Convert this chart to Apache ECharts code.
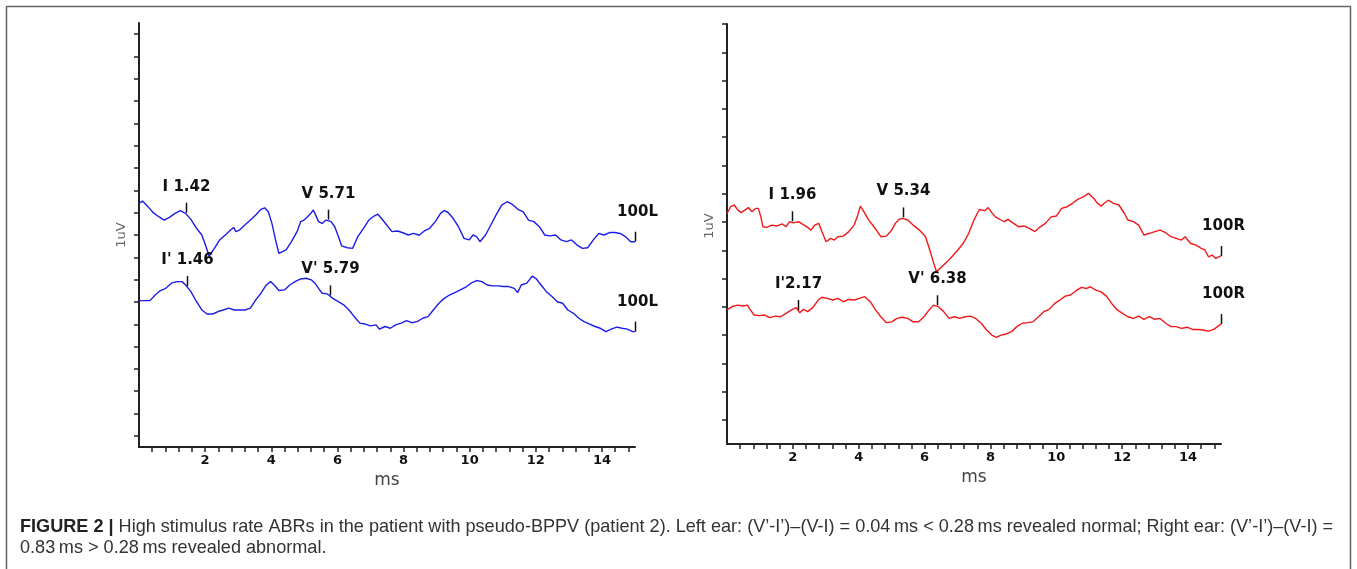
<!DOCTYPE html>
<html><head><meta charset="utf-8">
<script src="https://cdn.jsdelivr.net/npm/echarts@6/dist/echarts.min.js"></script>
<style>html,body{margin:0;padding:0;background:#fff}#c{width:1357px;height:569px}</style>
</head><body><div id="c"></div>
<script>
// ---------------- data (time in ms, amplitude in axis divisions) ----------------
const xTickLabels = [2, 4, 6, 8, 10, 12, 14];

const leftUpper = [[0,10.42],[0.11,10.52],[0.27,10.27],[0.43,10.0],[0.6,9.82],[0.76,9.67],[0.92,9.79],[1.09,9.97],[1.25,10.09],[1.41,9.97],[1.57,9.7],[1.74,9.3],[1.9,9.0],[2.01,8.55],[2.12,8.06],[2.28,8.4],[2.44,8.78],[2.61,9.0],[2.77,9.22],[2.86,9.34],[2.93,9.15],[3.04,9.22],[3.2,9.45],[3.37,9.67],[3.53,9.9],[3.69,10.15],[3.8,10.22],[3.91,10.04],[4.02,9.52],[4.13,8.78],[4.23,8.18],[4.29,8.1],[4.45,8.33],[4.61,8.7],[4.78,9.15],[4.89,9.6],[4.99,9.67],[5.1,9.82],[5.21,10.0],[5.27,10.12],[5.32,9.97],[5.43,9.6],[5.54,9.52],[5.65,9.67],[5.81,9.6],[5.92,9.37],[6.03,8.93],[6.13,8.51],[6.3,8.43],[6.46,8.4],[6.62,8.93],[6.79,9.3],[6.95,9.67],[7.11,9.85],[7.22,9.93],[7.33,9.75],[7.49,9.45],[7.65,9.15],[7.82,9.18],[7.98,9.1],[8.14,9.0],[8.31,9.07],[8.47,8.99],[8.63,9.18],[8.79,9.3],[8.96,9.6],[9.12,9.97],[9.23,10.09],[9.34,10.02],[9.5,9.75],[9.66,9.37],[9.83,8.85],[9.99,8.78],[10.1,9.0],[10.21,8.93],[10.31,8.7],[10.48,9.0],[10.64,9.45],[10.8,9.9],[10.97,10.34],[11.13,10.49],[11.29,10.37],[11.46,10.15],[11.62,10.04],[11.78,9.67],[11.94,9.6],[12.11,9.37],[12.27,9.0],[12.43,8.96],[12.6,9.0],[12.76,8.78],[12.92,8.7],[13.08,8.78],[13.25,8.55],[13.41,8.4],[13.57,8.43],[13.74,8.78],[13.9,9.07],[14.06,9.0],[14.23,9.11],[14.39,9.11],[14.55,9.07],[14.71,8.93],[14.87,8.7],[15,8.7]];

const leftLower = [[0,6.06],[0.33,6.06],[0.49,6.31],[0.65,6.51],[0.81,6.61],[0.98,6.84],[1.14,6.91],[1.3,6.91],[1.41,6.76],[1.57,6.46],[1.74,6.01],[1.9,5.64],[2.06,5.46],[2.23,5.46],[2.39,5.57],[2.55,5.64],[2.71,5.72],[2.88,5.64],[3.04,5.64],[3.2,5.64],[3.37,5.72],[3.53,6.09],[3.69,6.39],[3.85,6.76],[3.98,6.91],[4.09,6.76],[4.23,6.51],[4.4,6.54],[4.56,6.76],[4.72,6.91],[4.89,7.03],[5.05,7.06],[5.21,6.99],[5.32,6.84],[5.43,6.61],[5.54,6.39],[5.7,6.36],[5.86,6.16],[6.03,6.01],[6.19,5.87],[6.35,5.64],[6.51,5.34],[6.68,5.05],[6.84,5.01],[7.0,4.93],[7.17,4.97],[7.27,4.78],[7.44,4.9],[7.6,4.82],[7.76,4.97],[7.93,5.05],[8.09,5.16],[8.25,5.07],[8.41,5.12],[8.58,5.27],[8.74,5.34],[8.9,5.64],[9.07,5.94],[9.23,6.16],[9.39,6.31],[9.55,6.42],[9.72,6.54],[9.88,6.66],[10.04,6.84],[10.21,6.96],[10.37,6.91],[10.53,6.76],[10.69,6.72],[10.86,6.72],[11.02,6.69],[11.18,6.69],[11.35,6.61],[11.45,6.42],[11.56,6.76],[11.73,6.84],[11.89,7.16],[12.0,7.06],[12.16,6.76],[12.32,6.46],[12.49,6.24],[12.65,6.01],[12.81,5.94],[12.97,5.64],[13.14,5.49],[13.3,5.27],[13.46,5.12],[13.63,5.01],[13.79,4.9],[13.95,4.82],[14.12,4.67],[14.28,4.78],[14.45,4.87],[14.61,4.82],[14.77,4.78],[14.93,4.67],[15,4.67]];

const rightUpper = [[0,7.3],[0.11,7.54],[0.22,7.6],[0.33,7.42],[0.43,7.33],[0.54,7.42],[0.65,7.51],[0.76,7.36],[0.87,7.48],[0.95,7.48],[1.03,7.18],[1.09,6.83],[1.2,6.81],[1.36,6.89],[1.52,6.86],[1.68,6.93],[1.79,6.83],[1.9,7.01],[2.01,6.97],[2.17,7.01],[2.34,6.89],[2.45,6.81],[2.55,6.71],[2.66,6.89],[2.79,6.95],[2.88,6.66],[3.01,6.3],[3.15,6.42],[3.26,6.36],[3.37,6.48],[3.53,6.5],[3.7,6.66],[3.86,6.89],[3.97,7.24],[4.05,7.56],[4.16,7.36],[4.29,7.09],[4.46,6.83],[4.57,6.66],[4.67,6.48],[4.84,6.5],[5.0,6.71],[5.11,6.95],[5.22,7.09],[5.33,7.13],[5.49,7.07],[5.65,6.89],[5.82,6.74],[6.03,6.48],[6.14,6.07],[6.25,5.65],[6.36,5.24],[6.52,5.42],[6.68,5.59],[6.85,5.8],[7.01,6.01],[7.17,6.24],[7.34,6.6],[7.5,7.07],[7.66,7.44],[7.83,7.4],[7.93,7.51],[8.04,7.33],[8.15,7.18],[8.32,7.07],[8.42,7.01],[8.53,7.09],[8.7,6.95],[8.86,6.83],[9.02,6.86],[9.18,6.77],[9.35,6.66],[9.51,6.83],[9.67,6.95],[9.84,7.18],[10.0,7.21],[10.16,7.48],[10.33,7.54],[10.49,7.66],[10.65,7.8],[10.82,7.89],[10.98,8.01],[11.14,7.83],[11.25,7.66],[11.36,7.56],[11.47,7.68],[11.58,7.77],[11.74,7.66],[11.9,7.6],[12.07,7.3],[12.17,7.07],[12.34,7.01],[12.5,6.89],[12.66,6.54],[12.83,6.6],[12.99,6.66],[13.15,6.71],[13.32,6.62],[13.48,6.48],[13.64,6.42],[13.8,6.36],[13.91,6.48],[14.08,6.24],[14.24,6.18],[14.4,6.07],[14.51,6.01],[14.62,5.77],[14.73,5.83],[14.84,5.71],[14.89,5.77],[15,5.8]];

const rightLower = [[0,3.89],[0.16,4.01],[0.33,4.06],[0.49,4.03],[0.62,4.06],[0.71,3.89],[0.82,3.71],[0.98,3.69],[1.14,3.71],[1.3,3.62],[1.47,3.67],[1.63,3.65],[1.79,3.77],[1.96,3.89],[2.1,3.97],[2.21,3.79],[2.32,3.91],[2.45,3.83],[2.61,3.98],[2.77,4.24],[2.88,4.34],[3.04,4.3],[3.21,4.24],[3.37,4.3],[3.53,4.18],[3.7,4.26],[3.86,4.24],[4.02,4.3],[4.18,4.36],[4.35,4.18],[4.51,3.89],[4.67,3.65],[4.84,3.44],[5.0,3.47],[5.16,3.59],[5.33,3.63],[5.49,3.59],[5.65,3.47],[5.82,3.47],[5.98,3.65],[6.14,3.89],[6.27,4.06],[6.41,4.01],[6.58,3.83],[6.74,3.59],[6.9,3.65],[7.07,3.59],[7.23,3.65],[7.39,3.67],[7.55,3.59],[7.72,3.42],[7.88,3.18],[8.04,3.0],[8.18,2.92],[8.32,3.0],[8.48,3.04],[8.64,3.12],[8.8,3.3],[8.97,3.42],[9.13,3.44],[9.29,3.47],[9.46,3.65],[9.62,3.83],[9.78,3.91],[9.95,4.12],[10.11,4.24],[10.27,4.38],[10.43,4.42],[10.6,4.57],[10.76,4.69],[10.92,4.65],[11.03,4.71],[11.2,4.59],[11.36,4.53],[11.52,4.38],[11.68,4.12],[11.85,3.89],[12.01,3.77],[12.17,3.65],[12.34,3.59],[12.5,3.67],[12.66,3.56],[12.83,3.65],[12.99,3.56],[13.15,3.59],[13.32,3.42],[13.48,3.3],[13.64,3.3],[13.8,3.24],[13.97,3.28],[14.13,3.2],[14.29,3.2],[14.46,3.18],[14.62,3.14],[14.78,3.2],[14.89,3.3],[15,3.39]];

const leftUpperPeaks  = [['I 1.42', 1.42], ['V 5.71', 5.71]];
const leftLowerPeaks  = [["I' 1.46", 1.46], ["V' 5.79", 5.79]];
const rightUpperPeaks = [['I 1.96', 1.96], ['V 5.34', 5.34]];
const rightLowerPeaks = [["I'2.17", 2.17], ["V' 6.38", 6.38]];
const leftEndLabel = '100L';
const rightEndLabel = '100R';
const yAxisName = '1uV';
const xAxisName = 'ms';

const captionBold = 'FIGURE 2 |';
const captionLine1 = ' High stimulus rate ABRs in the patient with pseudo-BPPV (patient 2). Left ear: (V\u2019-I\u2019)\u2013(V-I) = 0.04\u2009ms < 0.28\u2009ms revealed normal; Right ear: (V\u2019-I\u2019)\u2013(V-I) =';
const captionLine2 = '0.83\u2009ms > 0.28\u2009ms revealed abnormal.';

// ---------------- helpers ----------------
function interp(trace, t) {
  for (let i = 1; i < trace.length; i++) {
    if (trace[i][0] >= t) {
      const a = trace[i - 1], b = trace[i];
      const f = (t - a[0]) / (b[0] - a[0] || 1);
      return a[1] + f * (b[1] - a[1]);
    }
  }
  return trace[trace.length - 1][1];
}
const range = (a, b, s) => { const r = []; for (let v = a; v <= b + 1e-9; v += s) r.push(Math.round(v * 100) / 100); return r; };
const minorTicks = range(0.4, 14.8, 0.4);

const LABEL_FONT = 'DejaVu Sans';
function markerSeries(idx, trace, peaks, endLabel) {
  const data = peaks.map(p => [p[1], interp(trace, p[1]), 0]);
  const last = trace[trace.length - 1];
  data.push([last[0], last[1], 1]);
  const texts = peaks.map(p => p[0]).concat([endLabel]);
  return {
    type: 'custom', xAxisIndex: idx, yAxisIndex: idx, coordinateSystem: 'cartesian2d',
    clip: false, silent: true, z: 5, data: data,
    renderItem: function (params, api) {
      const pt = api.coord([api.value(0), api.value(1)]);
      const isEnd = api.value(2) === 1;
      const x = Math.round(pt[0]) + 0.5;
      const y0 = isEnd ? pt[1] : pt[1] - 1;
      const len = 10;
      const labelY = isEnd ? pt[1] - len - 20 : pt[1] - 1 - len - 16;
      return {
        type: 'group', children: [
          { type: 'line', shape: { x1: x, y1: y0, x2: x, y2: y0 - len }, style: { stroke: '#111', lineWidth: 1.5 } },
          { type: 'text', x: x + (isEnd ? 2 : 0), y: labelY,
            style: { text: texts[params.dataIndex], fill: '#111', fontSize: 15, fontWeight: 'bold',
                     fontFamily: LABEL_FONT, align: 'center', verticalAlign: 'middle' } }
        ]
      };
    }
  };
}

function xAxisDef(idx) {
  return {
    type: 'value', gridIndex: idx, min: 0, max: 15,
    name: xAxisName, nameLocation: 'middle', nameGap: 23,
    nameTextStyle: { fontSize: 17, color: '#444', fontFamily: 'DejaVu Sans' },
    axisLine: { show: true, onZero: false, lineStyle: { color: '#222', width: 2 } },
    axisTick: { show: true, customValues: minorTicks, length: 5, lineStyle: { color: '#222', width: 1.5 } },
    axisLabel: { customValues: xTickLabels, color: '#111', fontSize: 13, fontWeight: 'bold', fontFamily: 'DejaVu Sans', margin: 7 },
    splitLine: { show: false }
  };
}
function yAxisDef(idx, min, max, nTicks, pad) {
  return {
    type: 'value', gridIndex: idx, min: min, max: max,
    name: yAxisName, nameLocation: 'middle', nameGap: 11, nameRotate: 90,
    nameTextStyle: { fontSize: 13, color: '#666', fontFamily: 'DejaVu Sans', padding: pad },
    axisLine: { show: true, onZero: false, lineStyle: { color: '#222', width: 2 } },
    axisTick: { show: true, customValues: range(0, nTicks - 1, 1), length: 5, lineStyle: { color: '#222', width: 1.5 } },
    axisLabel: { show: false },
    splitLine: { show: false }
  };
}

// caption font sizing: fit the first caption line to the width it has in the figure
const capFam = '"Liberation Sans Narrow", "Liberation Sans", Arial, sans-serif';
const ctx = document.createElement('canvas').getContext('2d');
function capWidth(sz) {
  ctx.font = 'bold ' + sz + 'px ' + capFam; let w = ctx.measureText(captionBold).width;
  ctx.font = sz + 'px ' + capFam; return w + ctx.measureText(captionLine1).width;
}
let capSize = 26;
while (capSize > 9 && capWidth(capSize) > 1318) capSize -= 0.1;

const chart = echarts.init(document.getElementById('c'), null, { renderer: 'canvas' });
chart.setOption({
  backgroundColor: '#fff',
  animation: false,
  grid: [
    { left: 139, top: 23, width: 496, height: 424 },
    { left: 727, top: 24, width: 494, height: 420 }
  ],
  xAxis: [xAxisDef(0), xAxisDef(1)],
  yAxis: [yAxisDef(0, -0.5, 18.5, 19, [0, 0, 0, 0]), yAxisDef(1, -0.85, 14, 15, [0, 0, 0, 16])],
  series: [
    { type: 'line', xAxisIndex: 0, yAxisIndex: 0, data: leftUpper, showSymbol: false, silent: true, lineStyle: { color: '#1c1ce8', width: 1.4 } },
    { type: 'line', xAxisIndex: 0, yAxisIndex: 0, data: leftLower, showSymbol: false, silent: true, lineStyle: { color: '#1c1ce8', width: 1.4 } },
    { type: 'line', xAxisIndex: 1, yAxisIndex: 1, data: rightUpper, showSymbol: false, silent: true, lineStyle: { color: '#f01818', width: 1.4 } },
    { type: 'line', xAxisIndex: 1, yAxisIndex: 1, data: rightLower, showSymbol: false, silent: true, lineStyle: { color: '#f01818', width: 1.4 } },
    markerSeries(0, leftUpper, leftUpperPeaks, leftEndLabel),
    markerSeries(0, leftLower, leftLowerPeaks, leftEndLabel),
    markerSeries(1, rightUpper, rightUpperPeaks, rightEndLabel),
    markerSeries(1, rightLower, rightLowerPeaks, rightEndLabel)
  ],
  graphic: [
    { type: 'rect', shape: { x: 6.5, y: 6.5, width: 1344, height: 620 }, style: { fill: 'none', stroke: '#666', lineWidth: 1.5 }, silent: true },
    { type: 'text', x: 20, y: 527, silent: true,
      style: { text: '{b|' + captionBold + '}{n|' + captionLine1 + '}', verticalAlign: 'middle',
               rich: { b: { fontWeight: 'bold', fontSize: capSize, fontFamily: capFam, fill: '#222' },
                       n: { fontSize: capSize, fontFamily: capFam, fill: '#333' } } } },
    { type: 'text', x: 20, y: 548, silent: true,
      style: { text: captionLine2, verticalAlign: 'middle', fontSize: capSize, fontFamily: capFam, fill: '#333' } }
  ]
});
</script></body></html>
